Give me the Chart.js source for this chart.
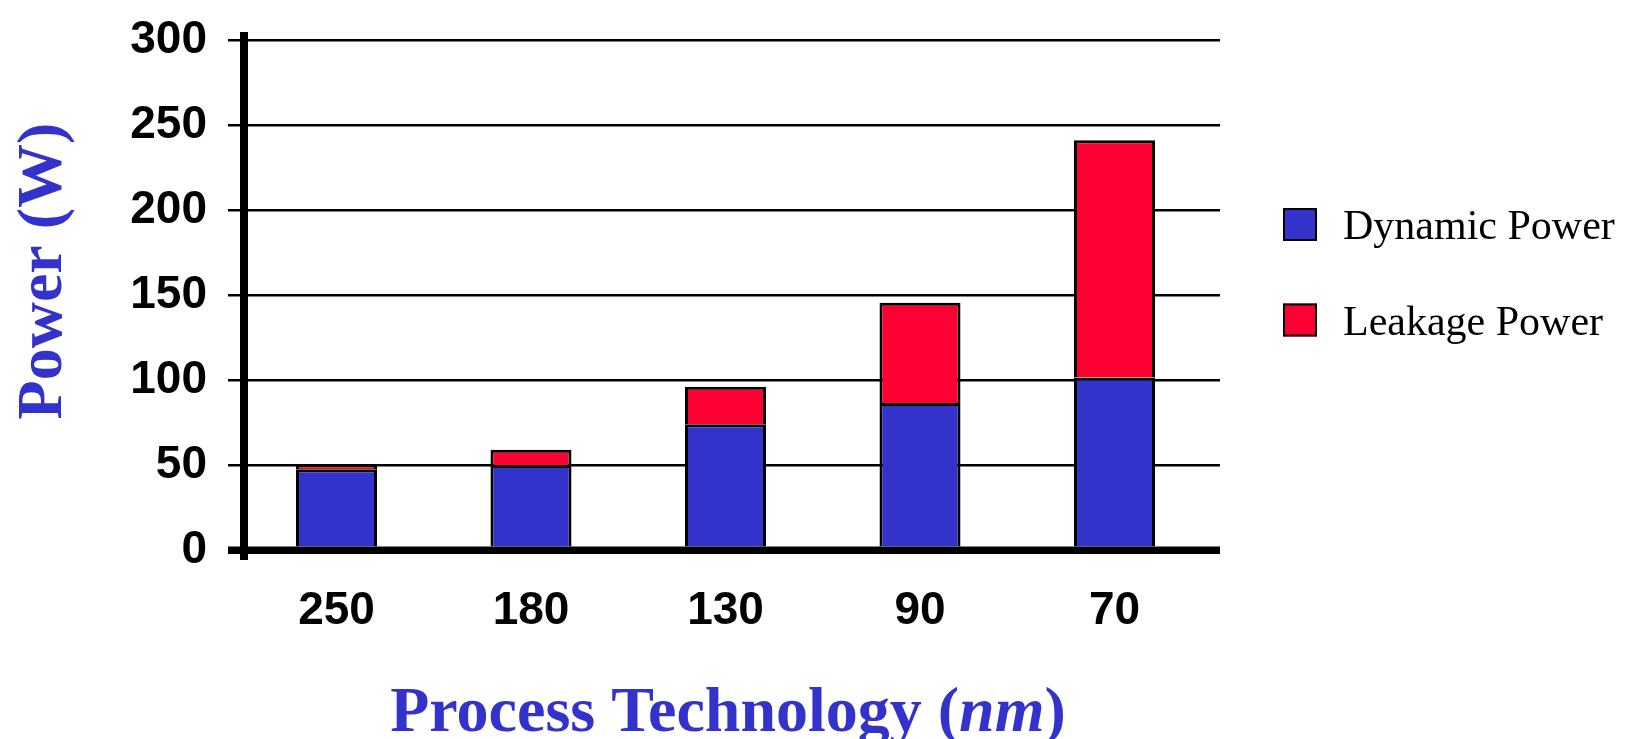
<!DOCTYPE html>
<html>
<head>
<meta charset="utf-8">
<script src="https://cdn.jsdelivr.net/npm/chart.js@4.4.0/dist/chart.umd.min.js"></script>
<style>
  html, body { margin: 0; padding: 0; background: #fff; overflow: hidden; }
  #wrap { position: relative; width: 1626px; height: 739px; }
</style>
</head>
<body>
<div id="wrap"><canvas id="c" width="1626" height="739"></canvas></div>
<script>
// Power per process node, stacked: dynamic + leakage (W)
const categories = ['250', '180', '130', '90', '70'];
const dynamicPower = [47.5, 50, 74, 86.5, 101.5];
const leakagePower = [2.5, 9, 22, 59, 139.5];
const yTicks = [0, 50, 100, 150, 200, 250, 300];
const seriesNames = ['Dynamic Power', 'Leakage Power'];
const seriesColors = ['#3333CC', '#FF0033'];
const titleColor = '#3333CC';

const sans = '"Liberation Sans", Arial, sans-serif';
const serif = '"Liberation Serif", "Times New Roman", serif';

// Axis line, titles and legend drawn on top of the chart
const decor = {
  id: 'decor',
  afterDatasetsDraw(chart) {
    const { ctx, chartArea, scales: { y } } = chart;
    const y0 = y.getPixelForValue(0);
    const yTop = y.getPixelForValue(yTicks[yTicks.length - 1]);
    ctx.save();
    ctx.fillStyle = '#000';
    // thick base line over the bar feet
    ctx.fillRect(chartArea.left - 16, y0 - 3.5, chartArea.right - chartArea.left + 16, 7);
    // thick vertical value axis
    ctx.fillRect(chartArea.left - 4, yTop - 8, 8, (y0 + 10) - (yTop - 8));
    ctx.restore();
  },
  afterDraw(chart) {
    const { ctx, chartArea } = chart;
    ctx.save();

    // y-axis title
    ctx.fillStyle = titleColor;
    ctx.font = 'bold 64px ' + serif;
    ctx.textAlign = 'center';
    ctx.textBaseline = 'alphabetic';
    ctx.translate(61, 271);
    ctx.rotate(-Math.PI / 2);
    ctx.fillText('Power (W)', 0, 0);
    ctx.setTransform(1, 0, 0, 1, 0, 0);

    // x-axis title with italic unit
    const parts = [
      ['Process Technology (', 'bold 64px ' + serif],
      ['nm', 'italic bold 64px ' + serif],
      [')', 'bold 64px ' + serif]
    ];
    let total = 0;
    parts.forEach(p => { ctx.font = p[1]; total += ctx.measureText(p[0]).width; });
    let x = 728 - total / 2;
    ctx.textAlign = 'left';
    parts.forEach(p => { ctx.font = p[1]; ctx.fillText(p[0], x, 731); x += ctx.measureText(p[0]).width; });

    // legend
    ctx.font = '42px ' + serif;
    ctx.textBaseline = 'alphabetic';
    chart.data.datasets.forEach((ds, i) => {
      const top = 208 + i * 95.5;
      const left = chartArea.right + 63;
      ctx.fillStyle = ds.backgroundColor;
      ctx.fillRect(left, top, 34, 33);
      ctx.strokeStyle = '#000';
      ctx.lineWidth = 2;
      ctx.strokeRect(left + 1, top + 1, 32, 31);
      ctx.fillStyle = '#000';
      ctx.fillText(ds.label, left + 60, top + 31);
    });
    ctx.restore();
  }
};

const toPoints = arr => arr.map((v, i) => ({ x: i, y: v }));

new Chart(document.getElementById('c'), {
  type: 'bar',
  data: {
    datasets: [
      {
        label: seriesNames[0],
        data: toPoints(dynamicPower),
        backgroundColor: seriesColors[0],
        borderColor: '#000',
        borderWidth: 3,
        barPercentage: 0.4165,
        categoryPercentage: 1
      },
      {
        label: seriesNames[1],
        data: toPoints(leakagePower),
        backgroundColor: seriesColors[1],
        borderColor: '#000',
        borderWidth: 3,
        barPercentage: 0.4165,
        categoryPercentage: 1
      }
    ]
  },
  options: {
    responsive: false,
    animation: false,
    devicePixelRatio: 1,
    layout: { padding: { top: 40, right: 406, left: 0, bottom: 0 } },
    plugins: { legend: { display: false }, tooltip: { enabled: false } },
    scales: {
      x: {
        type: 'linear',
        stacked: true,
        offset: false,
        bounds: 'data',
        min: -0.4756,
        max: 4.5424,
        grid: { display: false, offset: false },
        border: { display: false },
        afterBuildTicks(s) { s.ticks = categories.map((_, i) => ({ value: i })); },
        afterFit(s) { s.height = 189; },
        ticks: {
          callback: v => categories[v],
          font: { family: sans, weight: 'bold', size: 46 },
          color: '#000',
          padding: 26,
          autoSkip: false,
          maxRotation: 0
        }
      },
      y: {
        stacked: true,
        min: 0,
        max: 300,
        afterBuildTicks(s) { s.ticks = yTicks.map(v => ({ value: v })); },
        afterFit(s) { s.width = 244; s.paddingTop = 0; },
        grid: {
          color: '#000',
          lineWidth: c => (c.tick && c.tick.value === 0 ? 7 : 2.5),
          tickLength: 16,
          drawTicks: true
        },
        border: { display: false },
        ticks: {
          font: { family: sans, weight: 'bold', size: 46, lineHeight: 0.6 },
          color: '#000',
          padding: 21
        }
      }
    }
  },
  plugins: [decor]
});
</script>
</body>
</html>
